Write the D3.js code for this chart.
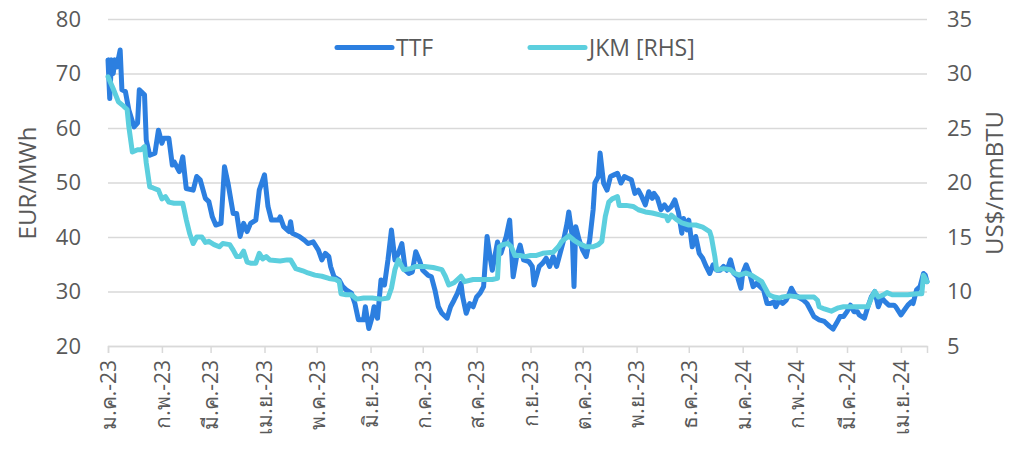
<!DOCTYPE html>
<html><head><meta charset="utf-8">
<script src="https://cdn.jsdelivr.net/npm/d3@7"></script>
<style>
html,body{margin:0;padding:0;background:#fff;}
svg{display:block;}
text{font-family:"Open Sans","Noto Sans",sans-serif;fill:#595959;}
</style></head>
<body><svg id="chart" width="1028" height="449"></svg>
<script>
const monthLabels = ["ม.ค.-23","ก.พ.-23","มี.ค.-23","เม.ย.-23","พ.ค.-23","มิ.ย.-23","ก.ค.-23","ส.ค.-23","ก.ย.-23","ต.ค.-23","พ.ย.-23","ธ.ค.-23","ม.ค.-24","ก.พ.-24","มี.ค.-24","เม.ย.-24"];
const monthTicks = ["2023-01-01","2023-02-01","2023-03-01","2023-04-01","2023-05-01","2023-06-01","2023-07-01","2023-08-01","2023-09-01","2023-10-01","2023-11-01","2023-12-01","2024-01-01","2024-02-01","2024-03-01","2024-04-01"];
const xDomain = ["2023-01-01","2024-04-16"];
const leftTicks = [20,30,40,50,60,70,80];
const rightTicks = [5,10,15,20,25,30,35];

const ttfDates = ["2023-01-01","2023-01-02","2023-01-03","2023-01-04","2023-01-05","2023-01-06","2023-01-08","2023-01-09","2023-01-11","2023-01-13","2023-01-16","2023-01-18","2023-01-19","2023-01-22","2023-01-23","2023-01-25","2023-01-28","2023-01-30","2023-02-01","2023-02-02","2023-02-05","2023-02-07","2023-02-08","2023-02-11","2023-02-13","2023-02-15","2023-02-19","2023-02-21","2023-02-23","2023-02-26","2023-02-28","2023-03-02","2023-03-04","2023-03-07","2023-03-09","2023-03-11","2023-03-14","2023-03-16","2023-03-18","2023-03-20","2023-03-22","2023-03-24","2023-03-27","2023-03-29","2023-04-01","2023-04-03","2023-04-05","2023-04-09","2023-04-10","2023-04-12","2023-04-15","2023-04-16","2023-04-17","2023-04-21","2023-04-24","2023-04-26","2023-04-29","2023-05-02","2023-05-04","2023-05-06","2023-05-08","2023-05-09","2023-05-11","2023-05-14","2023-05-16","2023-05-18","2023-05-21","2023-05-23","2023-05-25","2023-05-28","2023-05-29","2023-05-31","2023-06-02","2023-06-03","2023-06-05","2023-06-07","2023-06-09","2023-06-11","2023-06-13","2023-06-15","2023-06-17","2023-06-19","2023-06-21","2023-06-23","2023-06-25","2023-06-27","2023-06-29","2023-07-01","2023-07-04","2023-07-06","2023-07-08","2023-07-10","2023-07-12","2023-07-15","2023-07-17","2023-07-19","2023-07-21","2023-07-23","2023-07-24","2023-07-26","2023-07-28","2023-07-30","2023-08-01","2023-08-03","2023-08-05","2023-08-07","2023-08-09","2023-08-10","2023-08-13","2023-08-15","2023-08-18","2023-08-20","2023-08-22","2023-08-24","2023-08-26","2023-08-28","2023-08-31","2023-09-02","2023-09-03","2023-09-06","2023-09-08","2023-09-10","2023-09-12","2023-09-14","2023-09-16","2023-09-18","2023-09-20","2023-09-22","2023-09-23","2023-09-25","2023-09-26","2023-09-27","2023-09-29","2023-10-01","2023-10-03","2023-10-05","2023-10-07","2023-10-08","2023-10-10","2023-10-11","2023-10-13","2023-10-15","2023-10-17","2023-10-19","2023-10-21","2023-10-23","2023-10-25","2023-10-27","2023-10-29","2023-10-31","2023-11-02","2023-11-04","2023-11-06","2023-11-08","2023-11-10","2023-11-11","2023-11-13","2023-11-15","2023-11-17","2023-11-19","2023-11-21","2023-11-23","2023-11-25","2023-11-27","2023-11-28","2023-11-30","2023-12-01","2023-12-03","2023-12-05","2023-12-07","2023-12-09","2023-12-11","2023-12-13","2023-12-15","2023-12-17","2023-12-19","2023-12-21","2023-12-23","2023-12-25","2023-12-27","2023-12-29","2023-12-31","2024-01-01","2024-01-03","2024-01-05","2024-01-07","2024-01-09","2024-01-11","2024-01-13","2024-01-15","2024-01-17","2024-01-19","2024-01-20","2024-01-22","2024-01-24","2024-01-26","2024-01-28","2024-01-29","2024-01-31","2024-02-03","2024-02-05","2024-02-07","2024-02-09","2024-02-11","2024-02-14","2024-02-17","2024-02-20","2024-02-22","2024-02-24","2024-02-26","2024-02-28","2024-03-01","2024-03-03","2024-03-05","2024-03-07","2024-03-08","2024-03-11","2024-03-13","2024-03-15","2024-03-17","2024-03-19","2024-03-21","2024-03-23","2024-03-25","2024-03-28","2024-03-29","2024-04-01","2024-04-03","2024-04-05","2024-04-07","2024-04-08","2024-04-10","2024-04-12","2024-04-14","2024-04-15","2024-04-16"];
const ttfValues = [72.5,65.4,72.5,70,72.5,71.2,74.3,67,66.7,63.3,60.2,60.9,67,66.1,57.8,55,55.4,59.6,57.2,58.1,58.1,53.2,53.8,52,54.7,48.9,48.6,51.1,50.5,47.1,46.5,43.7,42.2,42.5,52.9,49.9,44.3,44.3,40.1,42.5,41,42.5,43.1,48.6,51.4,45.6,43.1,43.1,43.7,41.9,41,42.8,40.7,40.1,39.4,38.8,39.1,37.6,35.8,37,36.4,34.6,32.7,32.1,30.9,30.3,29.7,27.8,24.8,24.8,27.2,23.2,25.4,27.2,25.1,32.1,31.2,35.8,41.3,35.8,37,38.8,33.9,33.3,33.6,37.3,35.8,33.9,33,32.7,30.3,27.2,26,25.1,27.2,28.4,29.7,31.5,29,26,27.8,27.2,29,29.7,30.9,40.1,35.8,33.9,39.1,37,40.1,43.1,32.7,36.4,38.5,35.8,35.5,34.6,31.2,34.6,35.2,36.1,34.6,36.4,34.6,37,39.4,42.5,44.6,40.1,30.9,41.9,39.4,37.6,36.4,39.4,45,49.9,51.1,55.4,49.9,48.6,51.1,51.4,51.7,49.9,51.1,50.8,50.5,48,48.6,47.4,45.9,48.3,47.1,48,47.1,45,45.9,45,45.6,46.8,44.6,40.7,43.4,41.3,43.1,38.2,40.1,37,36.1,34.6,33.3,34.9,33.9,33.9,34.6,33.9,35.8,33.3,32.7,30.6,33.3,34.9,33.3,30.9,31.5,30.9,30.3,27.8,27.8,28.1,27.2,28.4,27.8,28.4,29.7,30.6,29.4,28.8,28.4,27.8,26.6,25.4,24.8,24.5,23.6,23.1,24.2,25.4,25.4,26.3,27.5,26.3,26.3,25.7,25.1,27.2,29,30,27.2,28.8,28.1,27.5,27.5,27.2,25.7,26.6,27.5,28.1,27.8,30.3,30.9,33.3,33,31.8];

const jkmDates = ["2023-01-01","2023-01-04","2023-01-07","2023-01-10","2023-01-12","2023-01-13","2023-01-15","2023-01-18","2023-01-20","2023-01-22","2023-01-23","2023-01-25","2023-01-27","2023-01-30","2023-02-01","2023-02-03","2023-02-05","2023-02-08","2023-02-13","2023-02-15","2023-02-17","2023-02-19","2023-02-21","2023-02-24","2023-02-26","2023-02-28","2023-03-03","2023-03-06","2023-03-08","2023-03-12","2023-03-14","2023-03-16","2023-03-18","2023-03-20","2023-03-22","2023-03-24","2023-03-27","2023-03-29","2023-03-31","2023-04-02","2023-04-04","2023-04-10","2023-04-14","2023-04-16","2023-04-19","2023-04-23","2023-04-26","2023-04-30","2023-05-04","2023-05-08","2023-05-12","2023-05-14","2023-05-15","2023-05-18","2023-05-21","2023-05-24","2023-05-28","2023-06-02","2023-06-07","2023-06-11","2023-06-13","2023-06-15","2023-06-17","2023-06-20","2023-06-24","2023-06-27","2023-07-02","2023-07-07","2023-07-12","2023-07-14","2023-07-16","2023-07-19","2023-07-21","2023-07-23","2023-07-25","2023-07-30","2023-08-04","2023-08-10","2023-08-13","2023-08-14","2023-08-16","2023-08-19","2023-08-21","2023-08-23","2023-08-26","2023-08-29","2023-09-01","2023-09-04","2023-09-08","2023-09-14","2023-09-17","2023-09-19","2023-09-23","2023-09-26","2023-09-29","2023-10-03","2023-10-07","2023-10-10","2023-10-12","2023-10-14","2023-10-16","2023-10-18","2023-10-21","2023-10-22","2023-10-26","2023-10-30","2023-11-02","2023-11-06","2023-11-10","2023-11-15","2023-11-18","2023-11-19","2023-11-21","2023-11-24","2023-11-27","2023-12-01","2023-12-05","2023-12-09","2023-12-13","2023-12-14","2023-12-16","2023-12-17","2023-12-21","2023-12-25","2023-12-27","2023-12-30","2024-01-03","2024-01-06","2024-01-09","2024-01-12","2024-01-14","2024-01-16","2024-01-19","2024-01-22","2024-01-24","2024-01-28","2024-02-02","2024-02-07","2024-02-11","2024-02-13","2024-02-14","2024-02-17","2024-02-21","2024-02-25","2024-02-28","2024-03-05","2024-03-09","2024-03-13","2024-03-15","2024-03-17","2024-03-19","2024-03-22","2024-03-24","2024-03-27","2024-03-31","2024-04-05","2024-04-10","2024-04-13","2024-04-14","2024-04-16"];
const jkmValues = [29.7,28.6,27.4,27,26.7,25.1,22.8,23,23,23.3,21.8,19.6,19.5,19.3,18.5,18.7,18.2,18.1,18.1,16.6,15.3,14.4,15,15,14.5,14.6,14.3,14.1,14.4,14.3,13.8,13.2,13.2,13.7,12.7,12.6,12.6,13.5,13,13.2,12.9,12.8,12.9,12.9,12.1,11.9,11.7,11.5,11.4,11.2,11.1,10.9,9.8,9.7,9.7,9.3,9.4,9.4,9.3,9.4,10.3,12,12.9,12,12.1,12.3,12.3,12.2,12,11.4,10.6,10.8,11.1,11.4,10.9,11.1,11.1,11.1,11.2,14.1,14.3,14.4,14.1,13.3,13.3,13.2,13.3,13.3,13.5,13.6,14.1,14.6,15.1,14.7,14.4,14.1,14.1,14.3,14.6,16.9,18.2,18.5,18.7,17.9,17.9,17.8,17.5,17.3,17.2,17,16.9,16.5,17,16.6,16.3,16.1,16.1,15.9,15.5,15,13.2,12,12.1,12,11.7,11.5,11.7,11.5,11.2,10.9,10.3,9.7,9.5,9.4,9.5,9.6,9.5,9.5,9.5,9.2,8.6,8.4,8.2,8.5,8.6,8.6,8.6,8.6,9.4,10,9.5,9.7,9.9,9.7,9.7,9.7,9.8,9.8,11.5,10.9];

const seriesNames = ["TTF","JKM [RHS]"];
const colors = {ttf:"#2c7fe0", jkm:"#5ccfde"};

const parse = d3.timeParse("%Y-%m-%d");
const svg = d3.select("#chart");
const m = {left:108, right:927, top:19, bottom:346};

const x = d3.scaleTime().domain(xDomain.map(parse)).range([m.left, m.right]);
const yL = d3.scaleLinear().domain([20,80]).range([m.bottom, m.top]);
const yR = d3.scaleLinear().domain([5,35]).range([m.bottom, m.top]);

// gridlines
const grid = svg.append("g").attr("transform",`translate(${m.left},0)`)
  .call(d3.axisLeft(yL).tickValues(leftTicks).tickSize(-(m.right-m.left)).tickFormat(""));
grid.select(".domain").remove();
grid.selectAll("line").attr("stroke","#d9d9d9").attr("stroke-width",1.5);

// left axis labels
const ax = svg.append("g").attr("transform",`translate(${m.left},0)`)
  .call(d3.axisLeft(yL).tickValues(leftTicks).tickSize(0).tickPadding(27));
ax.select(".domain").remove();
ax.selectAll("text").attr("font-size",22).attr("fill","#595959").attr("font-family","'Open Sans',sans-serif");

// right axis labels
const axR = svg.append("g").attr("transform",`translate(${m.right},0)`)
  .call(d3.axisRight(yR).tickValues(rightTicks).tickSize(0).tickPadding(20));
axR.select(".domain").remove();
axR.selectAll("text").attr("font-size",22).attr("fill","#595959").attr("font-family","'Open Sans',sans-serif");

// x axis
const xa = svg.append("g").attr("transform",`translate(0,${m.bottom})`)
  .call(d3.axisBottom(x).tickValues(monthTicks.map(parse)).tickSize(7)
    .tickFormat((d,i)=>monthLabels[i]));
xa.select(".domain").attr("stroke","#d9d9d9").attr("stroke-width",1.5);
xa.selectAll(".tick line").attr("stroke","#d9d9d9").attr("stroke-width",1.5);
xa.selectAll(".tick text")
  .attr("font-size",21).attr("fill","#595959").attr("font-family","'Open Sans',sans-serif")
  .attr("transform","rotate(-90)").attr("text-anchor","end")
  .attr("x",-14).attr("y",0).attr("dy","0.35em");

// lines
const ttf = ttfDates.map((d,i)=>({date:parse(d), v:ttfValues[i]}));
const jkm = jkmDates.map((d,i)=>({date:parse(d), v:jkmValues[i]}));
svg.append("path").datum(ttf)
  .attr("d", d3.line().x(d=>x(d.date)).y(d=>yL(d.v)))
  .attr("fill","none").attr("stroke",colors.ttf).attr("stroke-width",5)
  .attr("stroke-linejoin","round").attr("stroke-linecap","round");
svg.append("path").datum(jkm)
  .attr("d", d3.line().x(d=>x(d.date)).y(d=>yR(d.v)))
  .attr("fill","none").attr("stroke",colors.jkm).attr("stroke-width",5)
  .attr("stroke-linejoin","round").attr("stroke-linecap","round");

// axis titles
svg.append("text").attr("transform",`translate(36,183) rotate(-90)`)
  .attr("text-anchor","middle").attr("font-size",24).text("EUR/MWh");
svg.append("text").attr("transform",`translate(1003,183) rotate(-90)`)
  .attr("text-anchor","middle").attr("font-size",24).text("US$/mmBTU");

// legend
const lg = svg.append("g");
const legendItems = [{name:seriesNames[0], color:colors.ttf, x:337},{name:seriesNames[1], color:colors.jkm, x:530}];
legendItems.forEach(it=>{
  lg.append("line").attr("x1",it.x).attr("x2",it.x+55).attr("y1",47.5).attr("y2",47.5)
    .attr("stroke",it.color).attr("stroke-width",5).attr("stroke-linecap","round");
  lg.append("text").attr("x",it.x+59).attr("y",47.5).attr("dy","0.35em")
    .attr("font-size",23).text(it.name);
});
</script></body></html>
